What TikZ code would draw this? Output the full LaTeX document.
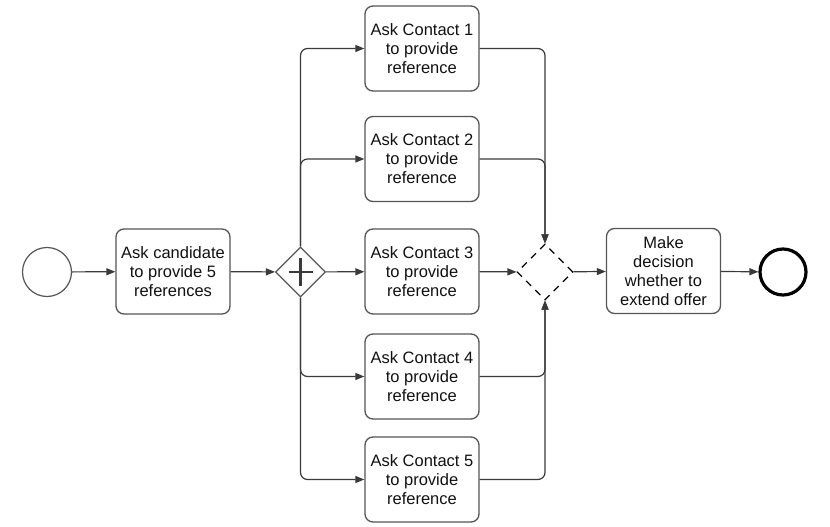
\documentclass[tikz,border=0pt]{standalone}
\usepackage{fontspec}
\setmainfont{Liberation Sans}
\usetikzlibrary{arrows.meta,shapes.geometric}
\definecolor{linec}{HTML}{3A3A3A}
\definecolor{boxc}{HTML}{555555}
\definecolor{txtc}{HTML}{111111}
\begin{document}
\begin{tikzpicture}[x=1pt,y=-1pt,
  task/.style={draw=boxc,line width=1.3pt,rounded corners=8pt,minimum width=114pt,minimum height=85pt,
    align=center,inner sep=0pt,text=txtc,font=\fontsize{16.5}{19}\selectfont},
  flow/.style={draw=linec,line width=1.2pt,rounded corners=7pt,-{Triangle[length=9pt,width=7pt]}},
  gate/.style={diamond,aspect=1,draw=boxc,line width=1.3pt,minimum width=50pt,minimum height=50pt,inner sep=0pt},
  evt/.style={circle,draw=boxc,line width=1.2pt,minimum size=49pt,inner sep=0pt}]
\useasboundingbox (0,0) rectangle (830,527);
\node[evt] (start) at (47,272) {};
\node[task] (cand) at (173,271.5) {Ask candidate\\to provide 5\\references};
\node[gate] (gw) at (300.5,272) {};
\draw[linec,line width=2.6pt] ([yshift=-14pt]gw.center) -- ([yshift=14pt]gw.center)
  ([xshift=-12pt]gw.center) -- ([xshift=12pt]gw.center);
\node[task] (c1) at (422,48.5) {Ask Contact 1\\to provide\\reference};
\node[task] (c2) at (422,159) {Ask Contact 2\\to provide\\reference};
\node[task] (c3) at (422,271.5) {Ask Contact 3\\to provide\\reference};
\node[task] (c4) at (422,376.5) {Ask Contact 4\\to provide\\reference};
\node[task] (c5) at (422,479.5) {Ask Contact 5\\to provide\\reference};
\node[gate,dashed,dash pattern=on 7pt off 6pt,minimum width=56pt,minimum height=56pt,draw=black] (xg) at (545,272) {};
\node[task] (dec) at (663.5,271) {Make\\decision\\whether to\\extend offer};
\node[evt,line width=3.2pt,draw=black,minimum size=46pt] (end) at (783,272) {};
\draw[flow] (start) -- (cand);
\draw[flow] (cand) -- (gw);
\draw[flow] (gw.north) |- (c1.west);
\draw[flow] (gw.north) |- (c2.west);
\draw[flow] (gw) -- (c3);
\draw[flow] (gw.south) |- (c4.west);
\draw[flow] (gw.south) |- (c5.west);
\draw[flow] (c1.east) -| (xg.north);
\draw[flow] (c2.east) -| (xg.north);
\draw[flow] (c3) -- (xg);
\draw[flow] (c4.east) -| (xg.south);
\draw[flow] (c5.east) -| (xg.south);
\draw[flow] (xg) -- (dec);
\draw[flow] (dec) -- (end);
\end{tikzpicture}
\end{document}
